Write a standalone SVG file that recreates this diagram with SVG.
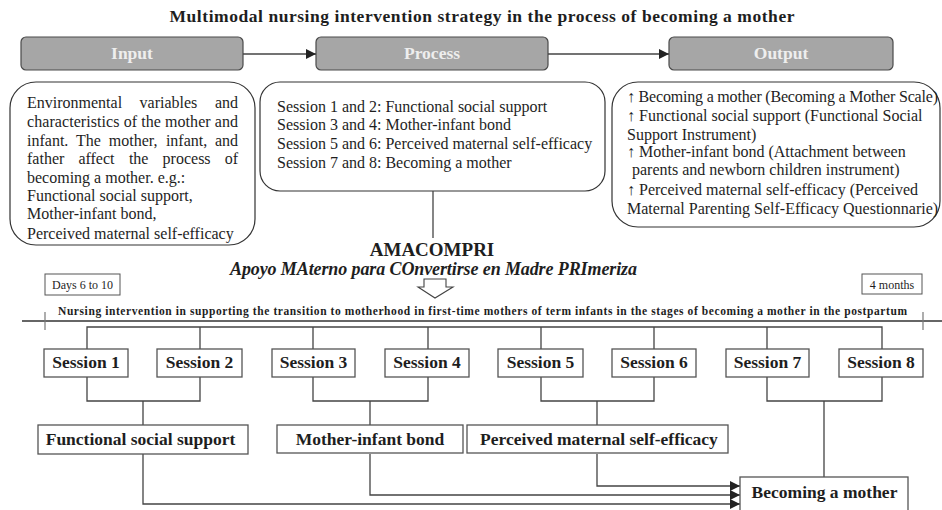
<svg xmlns="http://www.w3.org/2000/svg" width="942" height="510" viewBox="0 0 942 510">
<style>
.t{font-family:"Liberation Serif","Times New Roman",serif;fill:#1e1e1e}
.b{font-weight:bold}
.hdr{fill:#a6a6a6;stroke:#4a4a4a;stroke-width:1.2}
.hdrt{font-family:"Liberation Serif","Times New Roman",serif;font-weight:bold;font-size:17.5px;fill:#eeeeee;text-anchor:middle}
.rb{fill:#fff;stroke:#333;stroke-width:1.2}
.box{fill:#fff;stroke:#555;stroke-width:1.3}
.ln{fill:none;stroke:#444;stroke-width:1.3}
.body{font-size:16px}
.sess{font-size:17.5px;font-weight:bold;text-anchor:middle}
.small{font-size:12px}
</style>
<defs>
<marker id="ah" viewBox="0 0 10 10" refX="10" refY="5" markerWidth="11" markerHeight="10" markerUnits="userSpaceOnUse" orient="auto">
<path d="M0,0 L10,5 L0,10 Z" fill="#222"/>
</marker>
</defs>
<rect width="942" height="510" fill="#fff"/>

<text id="title" class="t b" x="482" y="22" font-size="17.5" text-anchor="middle" textLength="625" lengthAdjust="spacing">Multimodal nursing intervention strategy in the process of becoming a mother</text>

<g id="input-header"><rect class="hdr" x="21" y="37" width="222" height="33" rx="5"/><text class="hdrt" x="132" y="59">Input</text></g>
<g id="process-header"><rect class="hdr" x="316" y="37" width="232" height="33" rx="5"/><text class="hdrt" x="432" y="59">Process</text></g>
<g id="output-header"><rect class="hdr" x="669" y="37" width="224" height="33" rx="5"/><text class="hdrt" x="781" y="59">Output</text></g>

<g id="input-box">
<rect class="rb" x="10" y="82" width="245" height="163" rx="26"/>
<text class="t body" y="108"><tspan x="27">Environmental</tspan><tspan x="139.6">variables</tspan></text>
<text class="t body" x="238" y="108" text-anchor="end">and</text>
<text class="t body" x="27" y="127" textLength="211" lengthAdjust="spacing">characteristics of the mother and</text>
<text class="t body" y="146"><tspan x="27">infant.</tspan><tspan x="76.1">The</tspan><tspan x="108.8">mother,</tspan><tspan x="165.9">infant,</tspan></text>
<text class="t body" x="238" y="146" text-anchor="end">and</text>
<text class="t body" y="164"><tspan x="27">father</tspan><tspan x="78.4">affect</tspan><tspan x="128.9">the</tspan><tspan x="162.6">process</tspan></text>
<text class="t body" x="238" y="164" text-anchor="end">of</text>
<text class="t body" x="27" y="183">becoming a mother. e.g.:</text>
<text class="t body" x="27" y="201">Functional social support,</text>
<text class="t body" x="27" y="219">Mother-infant bond,</text>
<text class="t body" x="27" y="239">Perceived maternal self-efficacy</text>
</g>

<g id="process-box">
<rect class="rb" x="260" y="82" width="345" height="109" rx="20"/>
<text class="t body" x="277" y="112">Session 1 and 2: Functional social support</text>
<text class="t body" x="277" y="130">Session 3 and 4: Mother-infant bond</text>
<text class="t body" x="277" y="149">Session 5 and 6: Perceived maternal self-efficacy</text>
<text class="t body" x="277" y="168">Session 7 and 8: Becoming a mother</text>
</g>

<g id="output-box">
<rect class="rb" x="612" y="82" width="328" height="145" rx="26"/>
<text class="t body" x="627" y="102" textLength="311" lengthAdjust="spacing">↑ Becoming a mother (Becoming a Mother Scale)</text>
<text class="t body" x="627" y="121">↑ Functional social support (Functional Social</text>
<text class="t body" x="627" y="140">Support Instrument)</text>
<text class="t body" x="627" y="157">↑ Mother-infant bond (Attachment between</text>
<text class="t body" x="632" y="175">parents and newborn children instrument)</text>
<text class="t body" x="627" y="195">↑ Perceived maternal self-efficacy (Perceived</text>
<text class="t body" x="627" y="214">Maternal Parenting Self-Efficacy Questionnarie)</text>
</g>

<g id="amacompri">
<text class="t b" x="432" y="255.5" font-size="19" text-anchor="middle">AMACOMPRI</text>
<text class="t b" x="230" y="275" font-size="18" font-style="italic" textLength="407" lengthAdjust="spacing">Apoyo MAterno para COnvertirse en Madre PRImeriza</text>
<polygon points="424,279 446,279 446,287 453,287 435,298 418,287 424,287" fill="#fff" stroke="#444" stroke-width="1.1"/>
</g>

<g id="timeline">
<rect x="45" y="274" width="75" height="21" fill="#fff" stroke="#555" stroke-width="1"/>
<text class="t small" x="82.5" y="288.5" text-anchor="middle">Days 6 to 10</text>
<rect x="862" y="274" width="60" height="20" fill="#fff" stroke="#555" stroke-width="1"/>
<text class="t small" x="892" y="288.5" text-anchor="middle">4 months</text>
<text class="t b" x="58" y="315" font-size="11.5" textLength="849" lengthAdjust="spacing">Nursing intervention in supporting the transition to motherhood in first-time mothers of term infants in the stages of becoming a mother in the postpartum</text>
<line x1="22" y1="321" x2="942" y2="321" stroke="#333" stroke-width="1.5"/>
<line x1="45" y1="312" x2="45" y2="330" stroke="#777" stroke-width="1.2"/>
<line x1="923" y1="312" x2="923" y2="330" stroke="#777" stroke-width="1.2"/>
</g>

<g id="connectors">
<line class="ln" x1="243" y1="54" x2="316" y2="54" marker-end="url(#ah)"/>
<line class="ln" x1="548" y1="54" x2="669" y2="54" marker-end="url(#ah)"/>
<line class="ln" x1="433" y1="191" x2="433" y2="238"/>
<path class="ln" d="M87,349 V327 H882 V349 M200,327 V349 M313,327 V349 M428,327 V349 M541,327 V349 M654,327 V349 M767,327 V349"/>
<path class="ln" d="M87,377 V401 H200 V377 M143,401 V425"/>
<path class="ln" d="M313,377 V401 H428 V377 M370,401 V425"/>
<path class="ln" d="M541,377 V401 H654 V377 M597,401 V425"/>
<path class="ln" d="M767,377 V401 H882 V377 M824,401 V477"/>
<path class="ln" d="M597,454 V486 H740" marker-end="url(#ah)"/>
<path class="ln" d="M370,454 V495 H740" marker-end="url(#ah)"/>
<path class="ln" d="M143,454 V504 H740" marker-end="url(#ah)"/>
</g>

<g id="session-1"><rect class="box" x="44" y="349" width="84" height="28"/><text class="t sess" x="86" y="368">Session 1</text></g>
<g id="session-2"><rect class="box" x="157" y="349" width="85" height="28"/><text class="t sess" x="199.5" y="368">Session 2</text></g>
<g id="session-3"><rect class="box" x="272" y="349" width="83" height="28"/><text class="t sess" x="313.5" y="368">Session 3</text></g>
<g id="session-4"><rect class="box" x="385" y="349" width="84" height="28"/><text class="t sess" x="427" y="368">Session 4</text></g>
<g id="session-5"><rect class="box" x="498" y="349" width="85" height="28"/><text class="t sess" x="540.5" y="368">Session 5</text></g>
<g id="session-6"><rect class="box" x="612" y="349" width="84" height="28"/><text class="t sess" x="654" y="368">Session 6</text></g>
<g id="session-7"><rect class="box" x="726" y="349" width="83" height="28"/><text class="t sess" x="767.5" y="368">Session 7</text></g>
<g id="session-8"><rect class="box" x="839" y="349" width="84" height="28"/><text class="t sess" x="881" y="368">Session 8</text></g>

<g id="functional-social-support"><rect class="box" x="38" y="425" width="210" height="29"/><text class="t sess" x="140.5" y="445">Functional social support</text></g>
<g id="mother-infant-bond"><rect class="box" x="277" y="425" width="186" height="28"/><text class="t sess" x="370" y="445">Mother-infant bond</text></g>
<g id="perceived-maternal-self-efficacy"><rect class="box" x="467" y="425" width="261" height="28"/><text class="t sess" x="599" y="445">Perceived maternal self-efficacy</text></g>
<g id="becoming-a-mother"><rect class="box" x="740" y="477" width="168" height="40"/><text class="t sess" x="824.5" y="498">Becoming a mother</text></g>
</svg>
